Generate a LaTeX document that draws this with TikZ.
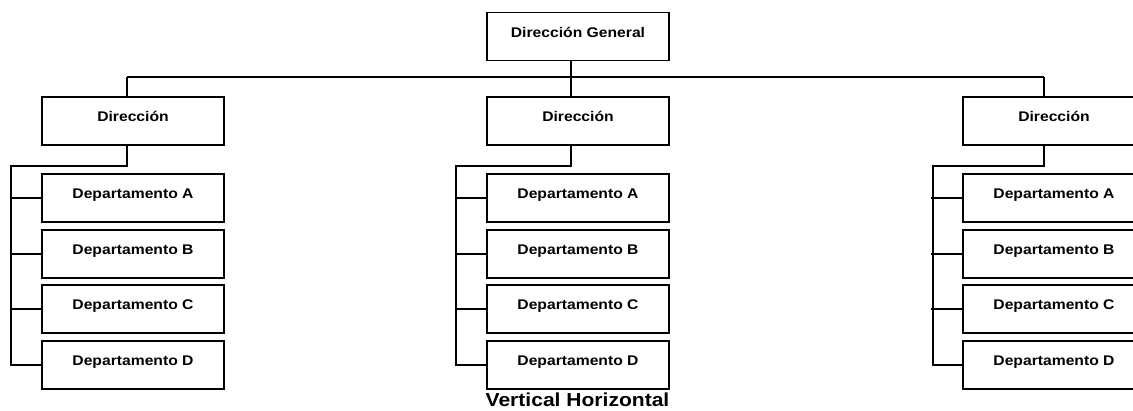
\documentclass[tikz,border=0pt]{standalone}
\usepackage{fontspec}
\setmainfont{Liberation Sans}[FakeStretch=1.12]
\begin{document}
\begin{tikzpicture}[x=1pt,y=-1pt,
  orgbox/.style={draw, line width=1.5pt, minimum width=182pt, minimum height=48pt,
    inner sep=0pt, text height=25pt, text depth=23pt, align=center,
    font=\fontsize{14pt}{16pt}\selectfont\bfseries},
  link/.style={line width=1.2pt}]
\useasboundingbox (0,0) rectangle (1133,411);

% top level
\node[orgbox] (dg) at (578,36.5) {Dirección General};
\coordinate (trunk) at (571,77);

% one column per direction: box left edge, drop x, spine x
\foreach \id/\lx/\dx/\sx in {l/42/127/11, m/487/571/456, r/963/1044/933} {
  \node[orgbox] (dir\id) at (\lx+91,121) {Dirección};
  \node[orgbox] (a\id) at (\lx+91,198) {Departamento A};
  \node[orgbox] (b\id) at (\lx+91,254) {Departamento B};
  \node[orgbox] (c\id) at (\lx+91,309) {Departamento C};
  \node[orgbox] (d\id) at (\lx+91,365) {Departamento D};
  \coordinate (bar\id) at (\dx,77);
  \coordinate (knee\id) at (\dx,166);
  \coordinate (spine\id) at (\sx,166);
  % direction hangs from the top bar
  \draw[link] (bar\id) -- (bar\id |- dir\id.north);
  % direction down to the department spine
  \draw[link] (bar\id |- dir\id.south) -- (knee\id) -- (spine\id) -- (spine\id |- d\id.west) -- (d\id.west);
  \draw[link] (spine\id |- a\id.west) -- (a\id.west);
  \draw[link] (spine\id |- b\id.west) -- (b\id.west);
  \draw[link] (spine\id |- c\id.west) -- (c\id.west);
}

% small overshoot of the right-hand branches
\foreach \n in {ar,br,cr} \draw[link] (931,0 |- \n.west) -- (933,0 |- \n.west);

% top bar
\draw[link] (dg.south -| trunk) -- (trunk);
\draw[link] (barl) -- (barr);

\node[anchor=base, font=\fontsize{18.8pt}{20pt}\selectfont\bfseries, inner sep=0pt] (cap) at (577.5,407) {Vertical Horizontal};
\end{tikzpicture}
\end{document}
